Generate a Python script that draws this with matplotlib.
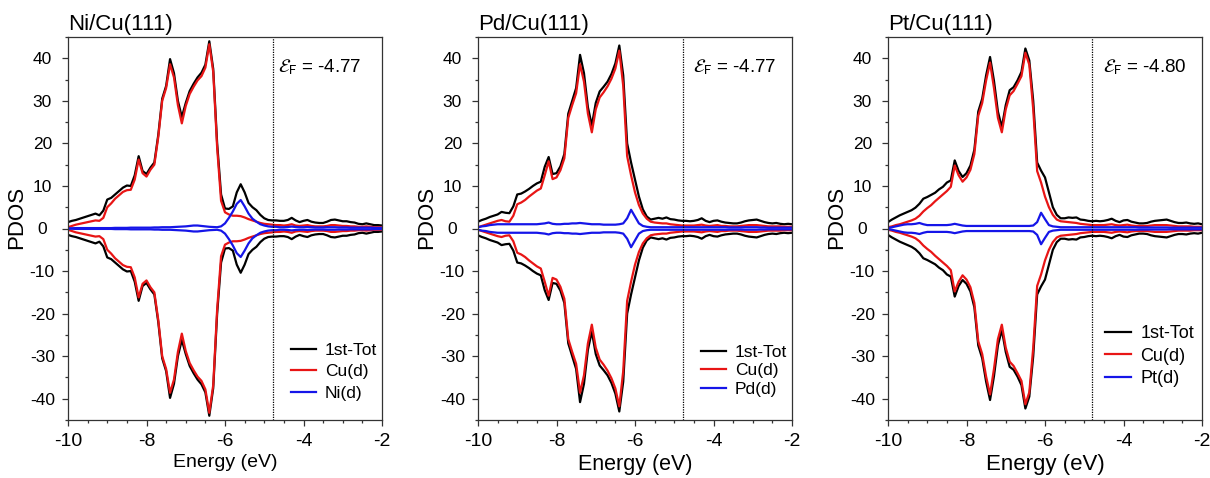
import numpy as np
import matplotlib
matplotlib.use("Agg")
import matplotlib.pyplot as plt
from matplotlib.ticker import MultipleLocator

plt.rcParams['font.family'] = ['Liberation Sans', 'DejaVu Sans']
plt.rcParams['mathtext.fontset'] = 'stixsans'
plt.rcParams['axes.unicode_minus'] = False
plt.rcParams['lines.solid_joinstyle'] = 'round'

# energy grid, -10 .. -2 eV in 0.1 eV steps
energy = np.round(np.linspace(-10.0, -2.0, 81), 2)

# spin-up PDOS of the first layer; spin-down is drawn mirrored
ni_tot = [1.5, 1.8, 2.0, 2.3, 2.6, 2.9, 3.2, 3.5, 3.1, 4.2,
          6.8, 7.2, 8.0, 8.8, 9.6, 10.1, 10.0, 12.5, 17.0, 13.5,
          12.8, 14.3, 15.5, 22.0, 30.5, 33.5, 39.8, 36.5, 30.0, 26.2,
          29.5, 32.3, 34.0, 35.5, 36.6, 38.5, 44.0, 37.5, 20.0, 8.0,
          4.7, 4.6, 5.2, 8.5, 10.4, 8.5, 6.0, 5.0, 4.3, 3.2,
          2.4, 2.0, 1.9, 1.9, 1.8, 1.8, 2.0, 2.5, 1.9, 1.5,
          1.8, 2.0, 1.6, 1.4, 1.3, 1.3, 1.6, 2.0, 2.1, 1.9,
          1.7, 1.7, 1.5, 1.4, 1.1, 1.0, 1.2, 1.0, 0.8, 0.8,
          0.7]
ni_cu = [0.3, 0.6, 0.9, 1.1, 1.3, 1.5, 1.7, 1.9, 1.8, 2.5,
         5.0, 5.9, 7.0, 7.8, 8.6, 9.0, 9.1, 11.5, 16.2, 13.0,
         12.2, 13.8, 15.0, 21.5, 30.0, 33.0, 38.6, 35.5, 29.0, 24.7,
         28.8, 31.6, 33.3, 34.8, 35.8, 37.8, 43.3, 36.8, 19.0, 6.5,
         3.8, 3.3, 3.0, 3.0, 2.9, 2.6, 2.2, 1.9, 1.6, 1.3,
         1.1, 1.0, 0.9, 0.8, 0.8, 0.7, 0.8, 1.0, 0.7, 0.6,
         0.7, 0.8, 0.6, 0.5, 0.5, 0.5, 0.6, 0.8, 0.8, 0.7,
         0.6, 0.6, 0.5, 0.5, 0.4, 0.4, 0.5, 0.4, 0.3, 0.3,
         0.3]
ni_d = [0.0, 0.05, 0.1, 0.1, 0.1, 0.1, 0.1, 0.1, 0.1, 0.1,
        0.1, 0.1, 0.15, 0.15, 0.15, 0.15, 0.2, 0.2, 0.2, 0.2,
        0.2, 0.2, 0.25, 0.25, 0.3, 0.3, 0.3, 0.35, 0.4, 0.45,
        0.5, 0.6, 0.7, 0.7, 0.6, 0.5, 0.4, 0.35, 0.3, 0.5,
        1.2, 2.5, 4.0, 5.8, 6.7, 5.2, 3.5, 2.3, 1.6, 1.0,
        0.7, 0.5, 0.4, 0.4, 0.3, 0.3, 0.35, 0.45, 0.35, 0.3,
        0.3, 0.35, 0.3, 0.25, 0.25, 0.25, 0.3, 0.3, 0.3, 0.25,
        0.25, 0.25, 0.2, 0.2, 0.2, 0.2, 0.2, 0.2, 0.15, 0.15,
        0.15]

pd_tot = [1.6, 2.0, 2.3, 2.7, 3.0, 3.3, 3.9, 3.7, 3.6, 5.2,
          8.0, 8.2, 8.7, 9.3, 10.0, 10.6, 11.0, 14.5, 16.8, 12.8,
          13.0, 14.6, 17.5, 27.0, 30.0, 33.0, 40.8, 36.5, 28.5, 24.2,
          29.5, 32.2, 33.3, 34.5, 36.3, 38.8, 43.0, 36.0, 20.0, 15.5,
          11.5, 7.5, 4.5, 2.8, 2.1, 2.3, 2.5, 2.3, 2.6, 2.2,
          2.1, 1.9, 1.8, 1.8, 1.7, 1.8, 2.0, 2.4, 1.8, 1.5,
          1.8, 1.9, 1.6, 1.4, 1.3, 1.2, 1.2, 1.4, 1.7, 1.9,
          2.0, 2.1, 1.8, 1.5, 1.3, 1.2, 1.3, 1.1, 1.0, 1.1,
          1.0]
pd_cu = [0.3, 0.6, 0.9, 1.2, 1.5, 1.8, 2.0, 1.7, 1.6, 3.0,
         5.7, 6.1, 6.7, 7.5, 8.2, 8.9, 9.4, 12.5, 15.8, 11.6,
         12.0, 13.7, 16.5, 26.0, 29.0, 31.8, 38.6, 34.5, 27.0, 22.6,
         28.0, 30.8, 32.0, 33.4, 35.2, 37.6, 41.8, 33.5, 17.0, 12.5,
         8.5, 5.5, 3.5, 2.3, 1.6, 1.4, 1.3, 1.2, 1.2, 1.0,
         0.9, 0.8, 0.7, 0.7, 0.7, 0.7, 0.8, 0.9, 0.7, 0.6,
         0.7, 0.8, 0.6, 0.6, 0.5, 0.5, 0.5, 0.6, 0.7, 0.8,
         0.8, 0.8, 0.7, 0.6, 0.5, 0.5, 0.5, 0.5, 0.4, 0.4,
         0.4]
pd_d = [0.3, 0.5, 0.6, 0.8, 0.9, 1.0, 1.0, 1.0, 1.0, 1.0,
        1.0, 1.0, 1.0, 1.0, 1.0, 1.0, 1.1, 1.2, 1.4, 1.1,
        1.0, 1.0, 1.1, 1.1, 1.2, 1.2, 1.3, 1.2, 1.1, 1.0,
        1.0, 1.0, 0.9, 0.9, 0.9, 0.9, 1.0, 1.2, 2.4, 4.4,
        2.8, 1.2, 0.6, 0.4, 0.3, 0.3, 0.3, 0.3, 0.3, 0.3,
        0.3, 0.3, 0.3, 0.3, 0.3, 0.3, 0.3, 0.3, 0.3, 0.3,
        0.3, 0.3, 0.3, 0.3, 0.25, 0.25, 0.25, 0.25, 0.3, 0.3,
        0.3, 0.3, 0.25, 0.25, 0.2, 0.2, 0.2, 0.2, 0.2, 0.2,
        0.2]

pt_tot = [1.5, 2.1, 2.6, 3.1, 3.5, 3.9, 4.3, 4.9, 5.8, 7.0,
          7.4, 7.9, 8.4, 9.2, 9.8, 10.8, 11.3, 16.0, 13.5, 12.1,
          13.0, 14.8, 18.5, 27.5, 30.5, 36.0, 40.3, 34.7, 27.5, 23.8,
          29.0, 32.5, 33.2, 34.8, 36.8, 42.3, 39.5, 30.0, 15.5, 13.6,
          12.0, 8.5, 5.0, 3.2, 2.4, 2.4, 2.6, 2.5, 2.6, 2.1,
          2.0, 1.8, 1.7, 1.8, 1.7, 1.8, 2.0, 2.3, 1.8, 1.5,
          1.9, 2.0, 1.6, 1.4, 1.2, 1.2, 1.3, 1.6, 1.8, 1.9,
          2.0, 2.1, 1.8, 1.5, 1.3, 1.3, 1.4, 1.2, 1.1, 1.2,
          1.0]
pt_cu = [0.3, 0.5, 0.8, 1.0, 1.3, 1.6, 1.9, 2.3, 3.0, 4.0,
         4.8, 5.5, 6.4, 7.2, 8.0, 8.8, 9.8, 14.8, 12.5, 11.0,
         12.0, 13.8, 17.5, 26.5, 29.5, 34.8, 39.0, 33.0, 26.0, 22.6,
         28.0, 31.3, 32.3, 34.0, 35.8, 41.3, 38.5, 28.0, 13.5, 10.8,
         7.5, 5.0, 3.2, 2.1, 1.7, 1.6, 1.5, 1.4, 1.3, 1.1,
         1.0, 0.9, 0.8, 0.8, 0.8, 0.8, 0.9, 1.0, 0.8, 0.7,
         0.8, 0.9, 0.7, 0.6, 0.6, 0.6, 0.6, 0.7, 0.8, 0.8,
         0.8, 0.8, 0.7, 0.6, 0.5, 0.5, 0.5, 0.5, 0.4, 0.4,
         0.4]
pt_d = [0.1, 0.3, 0.5, 0.7, 0.9, 1.0, 1.0, 1.1, 1.3, 1.0,
        0.8, 0.8, 0.8, 0.8, 0.8, 0.8, 0.9, 1.1, 0.9, 0.7,
        0.6, 0.6, 0.6, 0.6, 0.6, 0.6, 0.6, 0.6, 0.6, 0.6,
        0.6, 0.6, 0.6, 0.6, 0.6, 0.6, 0.6, 0.7, 1.5, 3.7,
        2.2, 0.8, 0.5, 0.4, 0.3, 0.3, 0.3, 0.3, 0.3, 0.3,
        0.3, 0.3, 0.3, 0.3, 0.3, 0.3, 0.3, 0.3, 0.3, 0.3,
        0.3, 0.3, 0.3, 0.3, 0.25, 0.25, 0.25, 0.25, 0.25, 0.25,
        0.25, 0.25, 0.2, 0.2, 0.2, 0.2, 0.2, 0.2, 0.2, 0.2,
        0.2]

titles = ["Ni/Cu(111)", "Pd/Cu(111)", "Pt/Cu(111)"]
metal_labels = ["Ni(d)", "Pd(d)", "Pt(d)"]
fermi = [-4.77, -4.77, -4.80]

panels = [(ni_tot, ni_cu, ni_d), (pd_tot, pd_cu, pd_d), (pt_tot, pt_cu, pt_d)]

# per-panel layout tweaks
lefts = [68, 478, 888]
xlabel_size = [14, 15.5, 16]
leg_size = [12.5, 12.5, 13]
leg_anchor = [(0.985, 0.05), (0.985, 0.06), (0.975, 0.085)]
leg_spacing = [0.36, 0.2, 0.32]
ef_x = [0.669, 0.685, 0.684]

W, H = 1210, 478
fig = plt.figure(figsize=(W / 100, H / 100), dpi=100)

for i in range(3):
    tot, cu, md = panels[i]
    ax = fig.add_axes([lefts[i] / W, (H - 420) / H, 314 / W, 383 / H])

    tot = np.array(tot)
    cu = np.array(cu)
    md = np.array(md)

    ax.plot(energy, tot, color='black', lw=1.6, label='1st-Tot')
    ax.plot(energy, -tot, color='black', lw=1.6)
    ax.plot(energy, cu, color='#e81515', lw=1.6, label='Cu(d)')
    ax.plot(energy, -cu, color='#e81515', lw=1.6)
    ax.plot(energy, md, color='#1515e8', lw=1.6, label=metal_labels[i])
    ax.plot(energy, -md, color='#1515e8', lw=1.6)

    ax.axvline(fermi[i], color='black', lw=0.9, ls=(0, (1, 1)))

    ax.set_xlim(-10, -2)
    ax.set_ylim(-45, 45)
    ax.xaxis.set_major_locator(MultipleLocator(2))
    ax.xaxis.set_minor_locator(MultipleLocator(0.5))
    ax.yaxis.set_major_locator(MultipleLocator(10))
    ax.yaxis.set_minor_locator(MultipleLocator(5))
    ax.tick_params(which='both', direction='out', top=False, right=False,
                   width=0.9, color='#333333')
    ax.tick_params(which='major', length=4.5)
    ax.tick_params(which='minor', length=2.5)
    ax.tick_params(axis='x', labelsize=14, pad=5)
    ax.tick_params(axis='y', labelsize=12.5, pad=14)
    for lab in ax.get_yticklabels():
        lab.set_horizontalalignment('center')
    for sp in ax.spines.values():
        sp.set_linewidth(0.9)
        sp.set_color('#333333')

    ax.set_xlabel('Energy (eV)', fontsize=xlabel_size[i], labelpad=3)
    ax.set_ylabel('PDOS', fontsize=16)
    ax.yaxis.set_label_coords(-0.13, 0.53)
    ax.set_title(titles[i], loc='left', fontsize=16, pad=5)

    ax.text(ef_x[i], 0.909, r'$\mathcal{E}_{\mathrm{F}}$' + ' = %.2f' % fermi[i],
            transform=ax.transAxes, fontsize=13.5, ha='left', va='baseline')

    ax.legend(loc='lower right', bbox_to_anchor=leg_anchor[i], frameon=False,
              fontsize=leg_size[i], handlelength=1.45, handletextpad=0.5,
              labelspacing=leg_spacing[i], borderpad=0, borderaxespad=0)

fig.savefig('out.png', dpi=100)
